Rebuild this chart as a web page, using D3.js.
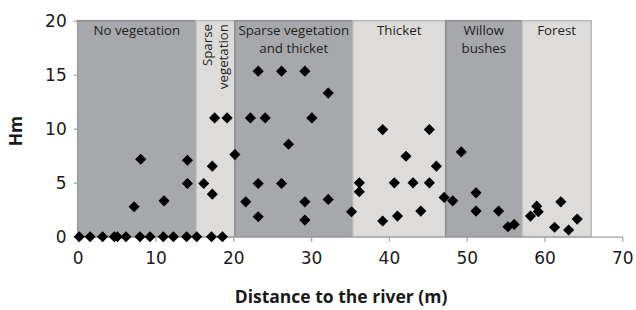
<!DOCTYPE html>
<html><head><meta charset="utf-8">
<script src="https://cdn.jsdelivr.net/npm/d3@7"></script>
<style>body{margin:0;background:#fff}svg{display:block}</style>
</head><body>
<svg id="c" width="636" height="310"></svg>
<script>
// Vegetation bands (distance ranges, m)
const bandNames = [["No vegetation"], ["Sparse", "vegetation"], ["Sparse vegetation", "and thicket"], ["Thicket"], ["Willow", "bushes"], ["Forest"]];
const bandStart = [0, 15.2, 20.2, 35.35, 47.3, 57.1];
const bandEnd   = [15.2, 20.2, 35.35, 47.3, 57.1, 66.0];
const bandDark  = [true, false, true, false, true, false];

// Scatter: distance to river (m) and Hm
const distance = [
  0.2, 1.6, 3.2, 4.7, 5.1, 6.2, 8.0, 9.3, 11.0, 12.3, 14.0, 15.3, 17.2, 18.6,
  7.25, 8.1, 11.1, 14.1, 14.1,
  16.2, 17.3, 17.3, 17.6, 19.2,
  20.2, 21.6, 22.2, 23.2, 23.2, 23.2, 24.1, 26.2, 26.2, 27.1, 29.2, 29.2, 29.2, 30.1, 32.2, 32.2, 35.2,
  36.2, 36.2, 39.2, 39.2, 40.7, 41.1, 42.2, 43.1, 44.1, 45.2, 45.2, 46.1, 47.1,
  48.2, 49.3, 51.2, 51.2, 54.1, 55.3, 56.1,
  58.2, 59.0, 59.2, 61.3, 62.1, 63.1, 64.2
];
const hm = [
  0, 0, 0, 0, 0, 0, 0, 0, 0, 0, 0, 0, 0, 0,
  2.77, 7.17, 3.32, 7.08, 4.93,
  4.93, 6.53, 3.94, 11.0, 11.0,
  7.6, 3.23, 11.0, 15.33, 4.93, 1.85, 11.0, 15.33, 4.93, 8.56, 15.33, 3.23, 1.54, 11.0, 13.3, 3.45, 2.31,
  4.99, 4.16, 9.92, 1.45, 4.99, 1.91, 7.45, 4.99, 2.37, 9.92, 4.99, 6.53, 3.64,
  3.32, 7.85, 4.06, 2.37, 2.37, 0.92, 1.14,
  1.91, 2.83, 2.31, 0.87, 3.23, 0.62, 1.63
];
const xTicks = [0, 10, 20, 30, 40, 50, 60, 70];
const yTicks = [0, 5, 10, 15, 20];

const svg = d3.select("#c");
const x = d3.scaleLinear().domain([0, 70]).range([77.7, 622.3]);
const y = d3.scaleLinear().domain([0, 20]).range([236.7, 20.7]);

// bands
const bands = bandNames.map((n, i) => ({n, s: bandStart[i], e: bandEnd[i], dark: bandDark[i]}));
svg.append("g").selectAll("rect").data(bands).join("rect")
  .attr("x", d => x(d.s)).attr("y", y(20))
  .attr("width", d => x(d.e) - x(d.s)).attr("height", y(0) - y(20))
  .attr("fill", d => d.dark ? "#a7a8ab" : "#dddcdb")
  .attr("stroke", d => d.dark ? "#8c8d90" : "#b8b8b8")
  .attr("stroke-width", 1.5);

// band labels
const lab = svg.append("g").attr("font-family", "'Open Sans', sans-serif").attr("font-size", 13.3).attr("fill", "#231f20");
bands.forEach((b, i) => {
  const cx = (x(b.s) + x(b.e)) / 2;
  if (i === 1) {
    b.n.forEach((t, j) => {
      lab.append("text").attr("transform", `translate(${cx - 3 + j * 16},24) rotate(-90)`)
        .attr("text-anchor", "end").text(t);
    });
  } else {
    b.n.forEach((t, j) => {
      lab.append("text").attr("x", cx).attr("y", 35 + j * 18).attr("text-anchor", "middle").text(t);
    });
  }
});

// axes
const axisColor = "#a6a6a6";
const gx = svg.append("g").attr("transform", `translate(0,${y(0)})`)
  .call(d3.axisBottom(x).tickValues(xTicks).tickSize(5).tickSizeOuter(0).tickPadding(10));
const gy = svg.append("g").attr("transform", `translate(${x(0)},0)`)
  .call(d3.axisLeft(y).tickValues(yTicks).tickSize(4).tickSizeOuter(0).tickPadding(7));
[gx, gy].forEach(g => {
  g.select(".domain").attr("stroke", axisColor).attr("stroke-width", 1.3);
  g.selectAll(".tick line").attr("stroke", axisColor).attr("stroke-width", 1.3);
  g.selectAll(".tick text").attr("font-family", "'DejaVu Sans', Verdana, sans-serif")
    .attr("font-size", 17).attr("fill", "#1a1a1a");
});

// points
const pts = distance.map((d, i) => ({d, h: hm[i]}));
const sym = d3.symbol().type(d3.symbolSquare).size(62);
svg.append("g").selectAll("path").data(pts).join("path")
  .attr("d", sym)
  .attr("transform", p => `translate(${x(p.d)},${y(p.h)}) rotate(45)`)
  .attr("fill", "#000");

// axis titles
svg.append("text").attr("x", 341).attr("y", 303).attr("text-anchor", "middle")
  .attr("font-family", "'Open Sans', sans-serif").attr("font-weight", "bold").attr("font-size", 17.5)
  .attr("fill", "#1a1a1a").text("Distance to the river (m)");
svg.append("text").attr("transform", `translate(22,131) rotate(-90)`).attr("text-anchor", "middle")
  .attr("font-family", "'Open Sans', sans-serif").attr("font-weight", "bold").attr("font-size", 17.5)
  .attr("fill", "#1a1a1a").text("Hm");
</script>
</body></html>
